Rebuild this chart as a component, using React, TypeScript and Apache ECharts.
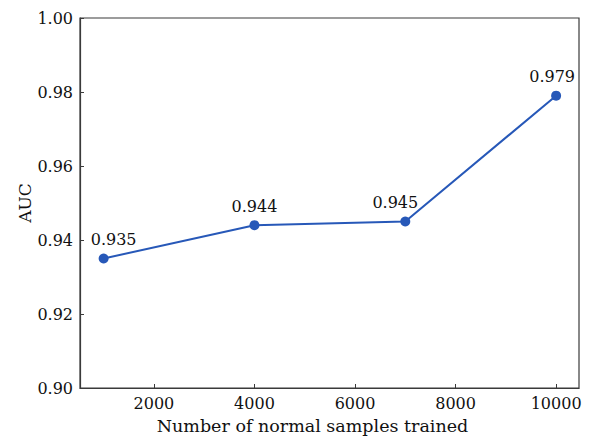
import React, { useEffect, useRef } from "react";
import * as echarts from "echarts";

const samples = [1000, 4000, 7000, 10000];
const auc = [0.935, 0.944, 0.945, 0.979];
const xTicks = [2000, 4000, 6000, 8000, 10000];

const FONT = "DejaVu Serif";

export default function App() {
  const ref = useRef<HTMLDivElement>(null);
  useEffect(() => {
    if (!ref.current) return;
    const chart = echarts.init(ref.current, undefined, { renderer: "svg" });
    const labelShift = [10, 0, -10, -4];
    chart.setOption({
      animation: false,
      backgroundColor: "#ffffff",
      grid: {
        left: 80,
        right: 13,
        top: 18,
        bottom: 51,
        show: true,
        borderColor: "#3a3a3a",
        borderWidth: 1.2,
        backgroundColor: "transparent",
      },
      xAxis: {
        type: "value",
        min: 530,
        max: 10455,
        name: "Number of normal samples trained",
        nameLocation: "middle",
        nameGap: 29,
        nameMoveOverlap: false,
        nameTextStyle: { fontFamily: FONT, fontSize: 17.5, color: "#111", padding: [0, 34, 0, 0] },
        axisLine: { show: true, lineStyle: { color: "#3a3a3a", width: 1.2 } },
        axisTick: { show: true, inside: true, length: 4, customValues: xTicks, lineStyle: { color: "#3a3a3a" } },
        axisLabel: {
          customValues: xTicks,
          fontFamily: FONT,
          fontSize: 16,
          color: "#111",
          margin: 7,
          formatter: (v: number) => String(v),
        },
        splitLine: { show: false },
      },
      yAxis: {
        type: "value",
        min: 0.9,
        max: 1.0,
        interval: 0.02,
        name: "AUC",
        nameLocation: "middle",
        nameGap: 47,
        nameMoveOverlap: false,
        nameTextStyle: { fontFamily: FONT, fontSize: 17, color: "#111" },
        axisLine: { show: true, lineStyle: { color: "#3a3a3a", width: 1.2 } },
        axisTick: { show: true, inside: true, length: 4, lineStyle: { color: "#3a3a3a" } },
        axisLabel: {
          fontFamily: FONT,
          fontSize: 16,
          color: "#111",
          margin: 7,
          formatter: (v: number) => v.toFixed(2),
        },
        splitLine: { show: false },
      },
      series: [
        {
          type: "line",
          data: samples.map((s, i) => ({
            value: [s, auc[i]],
            label: { offset: [labelShift[i], 0] },
          })),
          symbol: "circle",
          symbolSize: 10,
          lineStyle: { color: "#2758b8", width: 2 },
          itemStyle: { color: "#2758b8" },
          label: {
            show: true,
            position: "top",
            distance: 6,
            fontFamily: FONT,
            fontSize: 16,
            color: "#111",
            formatter: (p: any) => p.value[1].toFixed(3),
          },
        },
      ],
    });
    return () => chart.dispose();
  }, []);
  return (
    <div
      ref={ref}
      style={{ position: "fixed", left: 0, top: 0, width: 592, height: 440 }}
    />
  );
}
